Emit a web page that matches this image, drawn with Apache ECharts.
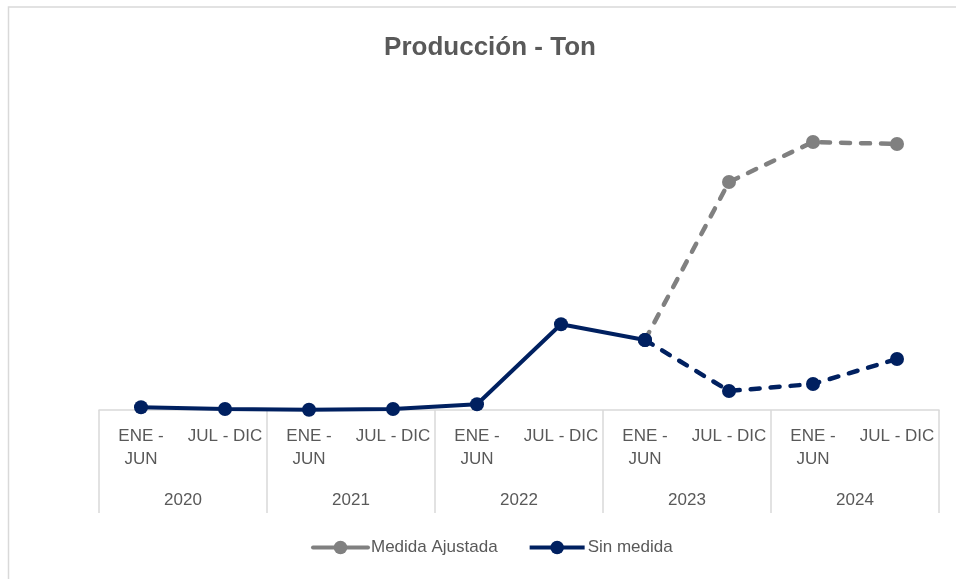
<!DOCTYPE html>
<html>
<head>
<meta charset="utf-8">
<script src="https://cdn.jsdelivr.net/npm/echarts@6/dist/echarts.min.js"></script>
<style>
html,body{margin:0;padding:0;background:#fff;}
#chart{width:956px;height:579px;}
</style>
</head>
<body>
<div id="chart"></div>
<script>
var halfYears = ["ENE - JUN","JUL - DIC","ENE - JUN","JUL - DIC","ENE - JUN","JUL - DIC","ENE - JUN","JUL - DIC","ENE - JUN","JUL - DIC"];
var years = ["2020","2021","2022","2023","2024"];
var sinMedidaReal = [27, 10, 2, 10, 57, 857, 700, null, null, null];
var sinMedidaProy = [null, null, null, null, null, null, 700, 190, 260, 510];
var medidaAjustada = [null, null, null, null, null, null, 700, 2280, 2680, 2660];

var FONT = '"Liberation Sans", Arial, sans-serif';
var TXT = '#595959';
var NAVY = '#002060';
var GRAY = '#808080';

var chart = echarts.init(document.getElementById('chart'));
chart.setOption({
  animation: false,
  backgroundColor: '#ffffff',
  title: {
    text: 'Producción - Ton',
    left: 485, top: 30, textAlign: 'center',
    textStyle: {color: TXT, fontSize: 26, fontWeight: 'bold', fontFamily: FONT}
  },
  graphic: [{
    type: 'rect', silent: true, z: -1,
    shape: {x: 8.5, y: 7, width: 1000, height: 700},
    style: {fill: 'none', stroke: '#D9D9D9', lineWidth: 1.5}
  }],
  legend: {
    left: 306, top: 534,
    itemWidth: 55, itemHeight: 17, itemGap: 30,
    textStyle: {color: TXT, fontSize: 17, fontFamily: FONT, padding: [0,0,0,-2]},
    data: [
      {name: 'Medida Ajustada', lineStyle: {type: 'solid', width: 4}},
      {name: 'Sin medida', lineStyle: {type: 'solid', width: 4}}
    ]
  },
  grid: {left: 99, right: 17, top: 90, bottom: 169, containLabel: false},
  xAxis: [{
    type: 'category', data: halfYears, position: 'bottom',
    boundaryGap: true,
    axisLine: {show: true, lineStyle: {color: '#D9D9D9', width: 1.5}},
    axisTick: {show: false},
    axisLabel: {
      color: TXT, fontSize: 17, fontFamily: FONT, lineHeight: 23, margin: 15, interval: 0,
      formatter: function (v) { return v.replace('ENE - ', 'ENE -\n'); }
    }
  }, {
    type: 'category', data: years, position: 'bottom',
    boundaryGap: true,
    axisLine: {show: false},
    axisTick: {show: true, length: 103, interval: 0, lineStyle: {color: '#D9D9D9', width: 1.5}},
    axisLabel: {color: TXT, fontSize: 17, fontFamily: FONT, margin: 82, interval: 0}
  }],
  yAxis: {
    type: 'value', min: 0, max: 3200, show: false,
    splitLine: {show: false}
  },
  series: [{
    name: 'Medida Ajustada', type: 'line', data: medidaAjustada, xAxisIndex: 0,
    symbol: 'circle', symbolSize: 14, color: GRAY,
    lineStyle: {color: GRAY, width: 4.5, type: [9, 11], cap: 'round'},
    itemStyle: {color: GRAY}, z: 2
  }, {
    name: 'Sin medida', type: 'line', data: sinMedidaReal, xAxisIndex: 0,
    symbol: 'circle', symbolSize: 14, color: NAVY,
    lineStyle: {color: NAVY, width: 4},
    itemStyle: {color: NAVY}, z: 3
  }, {
    name: 'Sin medida', type: 'line', data: sinMedidaProy, xAxisIndex: 0,
    symbol: 'circle', symbolSize: 14, color: NAVY,
    lineStyle: {color: NAVY, width: 4.5, type: [9, 11], cap: 'round'},
    itemStyle: {color: NAVY}, z: 3
  }]
});
</script>
</body>
</html>
